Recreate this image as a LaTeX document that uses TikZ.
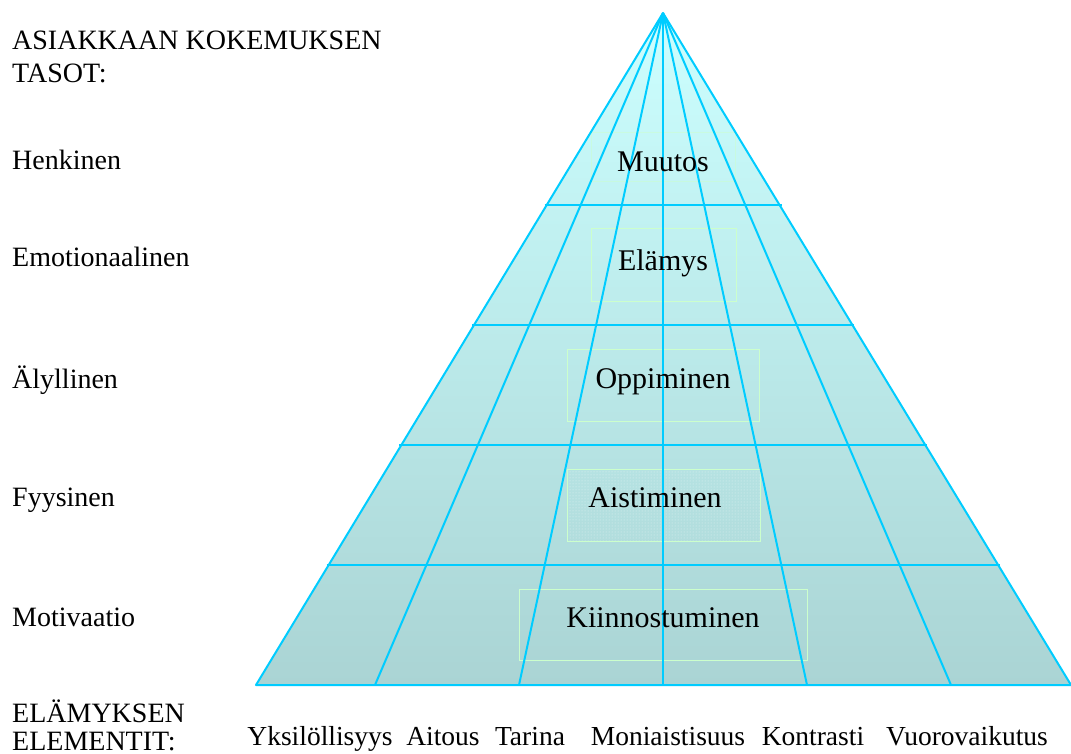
\documentclass[tikz,border=0pt]{standalone}
\usepackage{fontspec}
\setmainfont{Liberation Serif}
\usetikzlibrary{patterns}
\definecolor{gridcyan}{HTML}{00CCFF}
\definecolor{toptint}{HTML}{CCFFFF}
\definecolor{basetint}{HTML}{AAD4D4}
\definecolor{boxedge}{HTML}{CCFFCC}
\begin{document}
\begin{tikzpicture}[x=1pt,y=-1pt,
  gridline/.style={draw=gridcyan,line width=2pt,line join=round},
  sidelabel/.style={anchor=base west,inner sep=0pt,font=\fontsize{28}{33}\selectfont},
  elemlabel/.style={anchor=base,inner sep=0pt,font=\fontsize{27.5}{33}\selectfont},
  levellabel/.style={anchor=base,inner sep=0pt,font=\fontsize{30}{36}\selectfont},
  levelbox/.style={draw=boxedge,line width=1pt}]
\useasboundingbox[fill=white] (0,0) rectangle (1071,754);

% pyramid corners
\coordinate (apex) at (663,13);
\coordinate (bl) at (256,685);
\coordinate (br) at (1071,685);

% shaded body
\shade[top color=toptint,bottom color=basetint] (apex) -- (bl) -- (br) -- cycle;

% level boxes (drawn under the grid)
\draw[levelbox,draw opacity=0.5] (591,133) rectangle (735,182);
\draw[levelbox] (591,229) rectangle (736,301);
\draw[levelbox] (567,349) rectangle (759,421);
\fill[pattern=dots,pattern color=white,fill opacity=0.6] (567,469) rectangle (760,541);
\draw[levelbox] (567,469) rectangle (760,541);
\draw[levelbox] (519,589) rectangle (807,660);

% base points of the rays
\coordinate (b1) at (375,685);
\coordinate (b2) at (519,685);
\coordinate (b3) at (663,685);
\coordinate (b4) at (807,685);
\coordinate (b5) at (951,685);

% horizontal level lines, ends just past the pyramid edges
\foreach \yy [count=\i] in {205,325,445,565}{
  \coordinate (hl\i) at ({663-(407/672)*(\yy-13)-2},\yy);
  \coordinate (hr\i) at ({663+(408/672)*(\yy-13)+2},\yy);
}
\foreach \i in {1,...,4}{ \draw[gridline] (hl\i) -- (hr\i); }

% rays from the apex
\foreach \i in {1,...,5}{ \draw[gridline] (apex) -- (b\i); }

% outline
\draw[gridline] (apex) -- (bl) -- (br) -- cycle;

% level names inside the pyramid
\node[levellabel] (muutos) at (663,172) {Muutos};
\node[levellabel] (elamys) at (663,270) {Elämys};
\node[levellabel] (oppiminen) at (663,388) {Oppiminen};
\node[levellabel] (aistiminen) at (655,507) {Aistiminen};
\node[levellabel] (kiinnostuminen) at (663,627) {Kiinnostuminen};

% left column
\node[sidelabel] (titleA) at (12,50) {ASIAKKAAN KOKEMUKSEN};
\node[sidelabel] (titleB) at (12,83) {TASOT:};
\node[sidelabel] (henkinen) at (12,170) {Henkinen};
\node[sidelabel] (emotionaalinen) at (12,266) {Emotionaalinen};
\node[sidelabel] (alyllinen) at (12,388) {Älyllinen};
\node[sidelabel] (fyysinen) at (12,506) {Fyysinen};
\node[sidelabel] (motivaatio) at (12,626) {Motivaatio};
\node[sidelabel] (elemA) at (12,722) {ELÄMYKSEN};
\node[sidelabel] (elemB) at (12,750) {ELEMENTIT:};

% elements along the base
\node[elemlabel] (e1) at (320,745) {Yksilöllisyys};
\node[elemlabel] (e2) at (443,745) {Aitous};
\node[elemlabel] (e3) at (530,745) {Tarina};
\node[elemlabel] (e4) at (668,745) {Moniaistisuus};
\node[elemlabel] (e5) at (813,745) {Kontrasti};
\node[elemlabel] (e6) at (967,745) {Vuorovaikutus};
\end{tikzpicture}
\end{document}
